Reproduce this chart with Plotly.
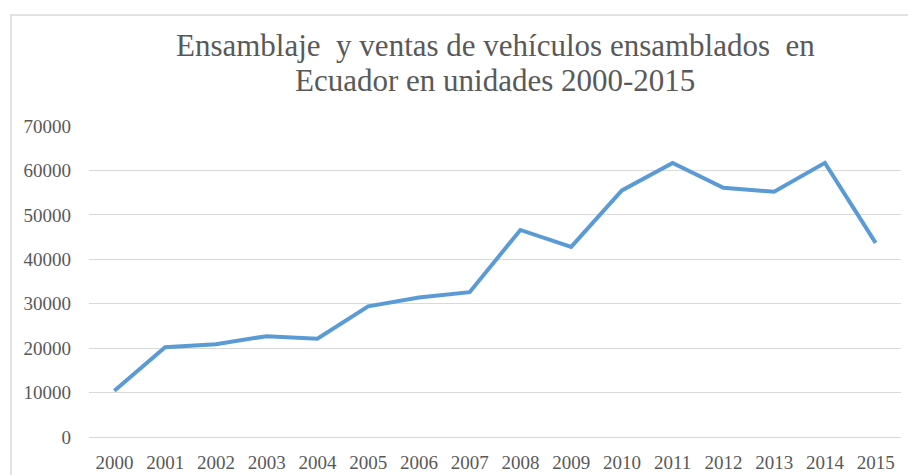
import plotly.graph_objects as go

years = [str(y) for y in range(2000, 2016)]
unidades = [10400, 20200, 20900, 22700, 22100, 29400, 31400, 32600,
            46600, 42800, 55500, 61700, 56100, 55200, 61700, 43700]
y_ticks = [0, 10000, 20000, 30000, 40000, 50000, 60000, 70000]

title_lines = ["Ensamblaje  y ventas de vehículos ensamblados  en",
               "Ecuador en unidades 2000-2015"]

W, H = 908, 475
L, R, T, B = 89, 7, 126, 38
pw = W - L - R
ph = H - T - B

fig = go.Figure()
fig.add_trace(go.Scatter(
    x=years, y=unidades, mode="lines",
    line=dict(color="#5B9BD5", width=4),
    hoverinfo="x+y", showlegend=False,
))

font = "Liberation Serif"
title_size = 31
annotations = []
for i, (txt, base) in enumerate(zip(title_lines, [57, 92])):
    annotations.append(dict(
        text=txt, xref="paper", yref="paper", x=0.5, xanchor="center",
        y=(T + ph - base) / ph, yanchor="bottom", yshift=-8,
        showarrow=False, font=dict(family=font, size=title_size, color="#595959")))

fig.update_layout(
    width=W, height=H,
    margin=dict(l=L, r=R, t=T, b=B, autoexpand=False),
    paper_bgcolor="white", plot_bgcolor="white",
    font=dict(family=font, color="#595959", size=19),
    annotations=annotations,
    xaxis=dict(type="category", range=[-0.5, len(years) - 0.5],
               showgrid=False, showline=False, ticks="", automargin=False,
               zeroline=False, tickfont=dict(family=font, size=19, color="#595959"),
               ticklabelstandoff=12),
    yaxis=dict(range=[0, 70000], tickvals=y_ticks, ticktext=[str(v) for v in y_ticks],
               showgrid=True, gridcolor="#d9d9d9", gridwidth=1, automargin=False,
               zeroline=True, zerolinecolor="#d9d9d9", zerolinewidth=1,
               showline=False, ticks="", tickfont=dict(family=font, size=19, color="#595959"),
               ticklabelstandoff=17),
    shapes=[dict(type="rect", xref="paper", yref="paper",
                 x0=(11 - L) / pw, x1=(W + 10 - L) / pw,
                 y0=-(H + 10 - (T + ph)) / ph, y1=(T + ph - 15) / ph,
                 line=dict(color="#d9d9d9", width=1.5), layer="below")],
)

fig.write_html("out.html", config={"displayModeBar": False},
               post_script="document.body.style.margin='0';document.body.style.overflow='hidden';")
